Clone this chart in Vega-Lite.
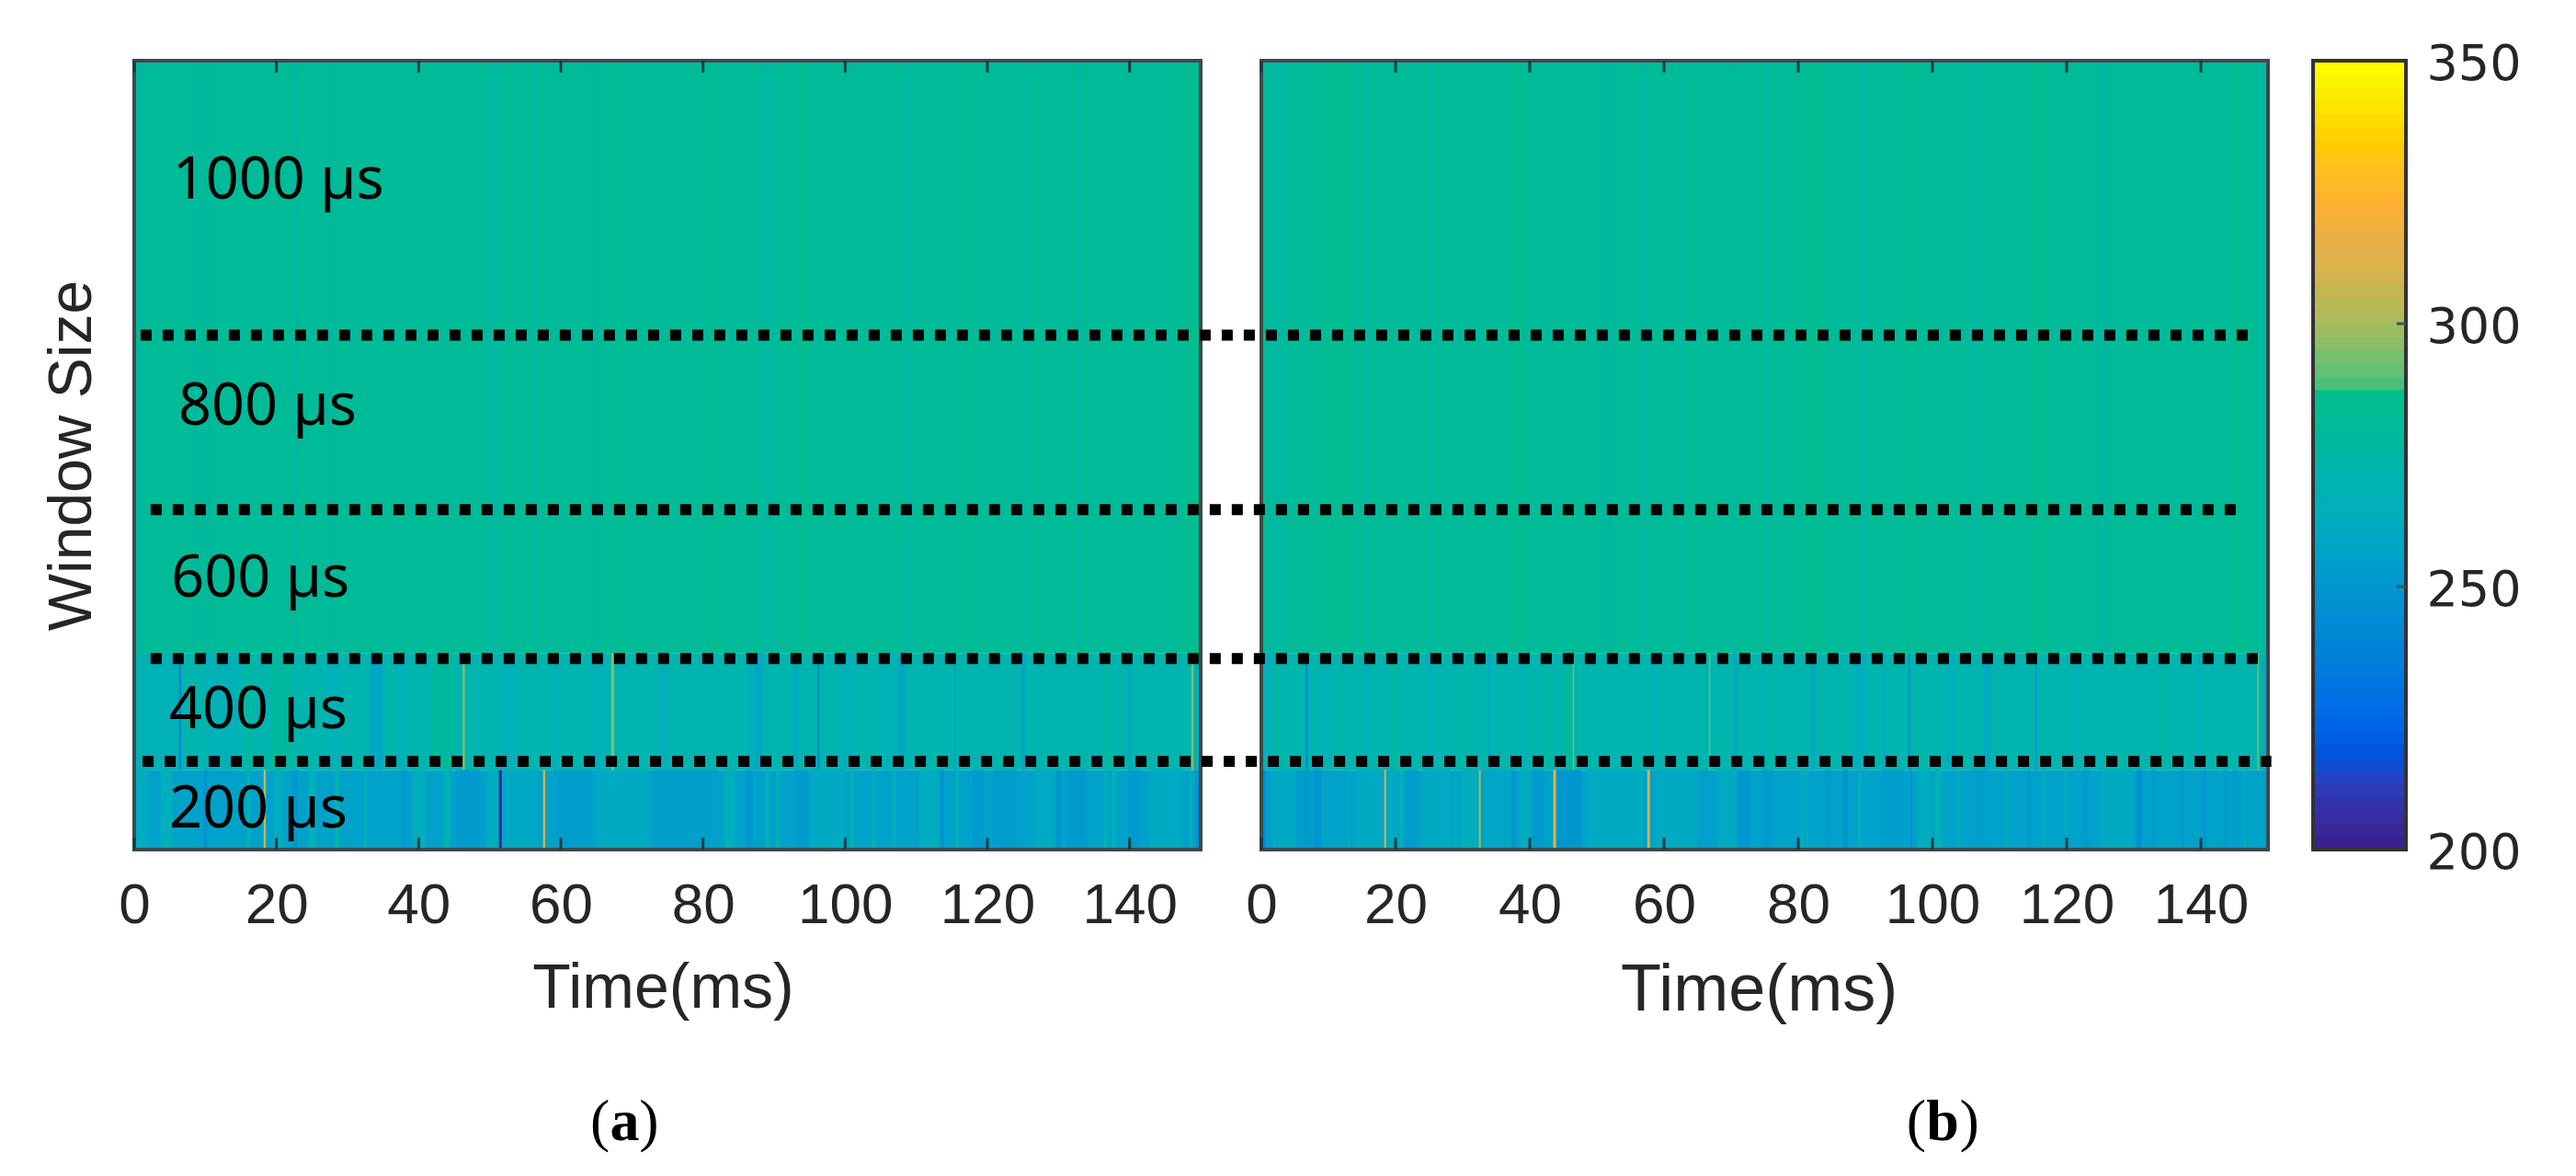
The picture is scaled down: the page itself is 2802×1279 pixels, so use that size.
{
"$schema":"https://vega.github.io/schema/vega-lite/v6.json",
"background":"white",
"padding":{"left":45,"top":43,"right":0,"bottom":0},
"autosize":{"type":"pad"},
"bounds":"flush",
"spacing":49,
"config":{"view":{"stroke":null}},
"datasets":{
"cellsA":[
{"t0":0,"t1":150,"y0":0,"y1":101,"v":256},
{"t0":0.2,"t1":2,"y0":0,"y1":101,"v":262},
{"t0":3.7,"t1":5.4,"y0":0,"y1":101,"v":265},
{"t0":9.8,"t1":10.3,"y0":0,"y1":101,"v":248},
{"t0":15.8,"t1":16.3,"y0":0,"y1":101,"v":268},
{"t0":18.2,"t1":18.5,"y0":0,"y1":101,"v":306},
{"t0":19.6,"t1":21,"y0":0,"y1":101,"v":262},
{"t0":22.2,"t1":23,"y0":0,"y1":101,"v":251},
{"t0":24.5,"t1":25.6,"y0":0,"y1":101,"v":266},
{"t0":28.2,"t1":28.8,"y0":0,"y1":101,"v":272},
{"t0":32.3,"t1":32.8,"y0":0,"y1":101,"v":265},
{"t0":37.7,"t1":38.3,"y0":0,"y1":101,"v":251},
{"t0":39.2,"t1":41,"y0":0,"y1":101,"v":264},
{"t0":43.5,"t1":44.4,"y0":0,"y1":101,"v":268},
{"t0":45.3,"t1":48.7,"y0":0,"y1":101,"v":252},
{"t0":49.6,"t1":51.3,"y0":0,"y1":101,"v":262},
{"t0":51.3,"t1":51.7,"y0":0,"y1":101,"v":203},
{"t0":52.2,"t1":56.8,"y0":0,"y1":101,"v":260},
{"t0":57.5,"t1":57.8,"y0":0,"y1":101,"v":308},
{"t0":59,"t1":64.3,"y0":0,"y1":101,"v":254},
{"t0":64.9,"t1":72.4,"y0":0,"y1":101,"v":261},
{"t0":73,"t1":82,"y0":0,"y1":101,"v":255},
{"t0":83,"t1":84.5,"y0":0,"y1":101,"v":264},
{"t0":86,"t1":87,"y0":0,"y1":101,"v":251},
{"t0":88.8,"t1":89.3,"y0":0,"y1":101,"v":268},
{"t0":90.3,"t1":90.8,"y0":0,"y1":101,"v":268},
{"t0":93,"t1":94.8,"y0":0,"y1":101,"v":252},
{"t0":95,"t1":100,"y0":0,"y1":101,"v":261},
{"t0":100.7,"t1":101.2,"y0":0,"y1":101,"v":270},
{"t0":103.8,"t1":104.2,"y0":0,"y1":101,"v":268},
{"t0":106.7,"t1":107.1,"y0":0,"y1":101,"v":268},
{"t0":110.4,"t1":113.3,"y0":0,"y1":101,"v":263},
{"t0":113.3,"t1":113.9,"y0":0,"y1":101,"v":249},
{"t0":115.5,"t1":116,"y0":0,"y1":101,"v":268},
{"t0":117.9,"t1":119.6,"y0":0,"y1":101,"v":252},
{"t0":120.8,"t1":124.2,"y0":0,"y1":101,"v":253},
{"t0":126.5,"t1":129.4,"y0":0,"y1":101,"v":261},
{"t0":129.7,"t1":130.3,"y0":0,"y1":101,"v":248},
{"t0":131.2,"t1":134,"y0":0,"y1":101,"v":252},
{"t0":136.4,"t1":136.9,"y0":0,"y1":101,"v":268},
{"t0":137.5,"t1":138.1,"y0":0,"y1":101,"v":268},
{"t0":139.8,"t1":141.6,"y0":0,"y1":101,"v":252},
{"t0":142.8,"t1":147.4,"y0":0,"y1":101,"v":261},
{"t0":148.4,"t1":148.8,"y0":0,"y1":101,"v":268},
{"t0":149.3,"t1":150,"y0":0,"y1":101,"v":248},
{"t0":0,"t1":150,"y0":101,"y1":249,"v":272},
{"t0":0.2,"t1":6,"y0":101,"y1":249,"v":268},
{"t0":6.3,"t1":6.6,"y0":101,"y1":249,"v":238},
{"t0":10,"t1":14.5,"y0":101,"y1":249,"v":267},
{"t0":15.8,"t1":16.4,"y0":101,"y1":249,"v":279},
{"t0":19.3,"t1":22.2,"y0":101,"y1":249,"v":279},
{"t0":27,"t1":29,"y0":101,"y1":249,"v":267},
{"t0":33.1,"t1":34.9,"y0":101,"y1":249,"v":258},
{"t0":37,"t1":38.5,"y0":101,"y1":249,"v":267},
{"t0":41.8,"t1":44.7,"y0":101,"y1":249,"v":279},
{"t0":46.2,"t1":46.5,"y0":101,"y1":249,"v":296},
{"t0":51.6,"t1":54,"y0":101,"y1":249,"v":267},
{"t0":59,"t1":59.5,"y0":101,"y1":249,"v":264},
{"t0":64,"t1":66.5,"y0":101,"y1":249,"v":267},
{"t0":67.1,"t1":67.5,"y0":101,"y1":249,"v":295},
{"t0":74,"t1":75,"y0":101,"y1":249,"v":265},
{"t0":86,"t1":87,"y0":101,"y1":249,"v":265},
{"t0":87.3,"t1":88.4,"y0":101,"y1":249,"v":259},
{"t0":92.8,"t1":93.4,"y0":101,"y1":249,"v":261},
{"t0":96.1,"t1":96.4,"y0":101,"y1":249,"v":244},
{"t0":99,"t1":101.8,"y0":101,"y1":249,"v":268},
{"t0":105.2,"t1":107.5,"y0":101,"y1":249,"v":268},
{"t0":107.5,"t1":108.4,"y0":101,"y1":249,"v":258},
{"t0":115.2,"t1":115.5,"y0":101,"y1":249,"v":258},
{"t0":124.8,"t1":125.3,"y0":101,"y1":249,"v":258},
{"t0":136.8,"t1":137.4,"y0":101,"y1":249,"v":279},
{"t0":139.8,"t1":140.3,"y0":101,"y1":249,"v":261},
{"t0":148.7,"t1":149,"y0":101,"y1":249,"v":295},
{"t0":149.2,"t1":150,"y0":101,"y1":249,"v":268},
{"t0":0,"t1":150,"y0":249,"y1":1000,"v":281},
{"t0":0,"t1":1.3,"y0":249,"y1":1000,"v":277},
{"t0":8,"t1":9,"y0":249,"y1":1000,"v":279},
{"t0":10,"t1":11,"y0":249,"y1":1000,"v":279},
{"t0":22,"t1":23,"y0":249,"y1":1000,"v":279},
{"t0":27,"t1":28,"y0":249,"y1":1000,"v":279},
{"t0":49.5,"t1":51.5,"y0":249,"y1":1000,"v":278},
{"t0":56.3,"t1":57,"y0":249,"y1":1000,"v":278},
{"t0":64,"t1":65,"y0":249,"y1":1000,"v":279},
{"t0":67,"t1":69,"y0":249,"y1":1000,"v":283},
{"t0":81,"t1":82.5,"y0":249,"y1":1000,"v":283},
{"t0":88.2,"t1":90,"y0":249,"y1":1000,"v":278},
{"t0":93.5,"t1":95,"y0":249,"y1":1000,"v":284},
{"t0":108.5,"t1":109.5,"y0":249,"y1":1000,"v":278},
{"t0":117,"t1":118.5,"y0":249,"y1":1000,"v":283},
{"t0":124.8,"t1":125.5,"y0":249,"y1":1000,"v":278},
{"t0":132.5,"t1":133.5,"y0":249,"y1":1000,"v":279},
{"t0":147,"t1":150,"y0":249,"y1":1000,"v":284}
],
"cellsB":[
{"t0":0,"t1":150,"y0":0,"y1":101,"v":256},
{"t0":0,"t1":0.6,"y0":0,"y1":101,"v":240},
{"t0":1.8,"t1":2.1,"y0":0,"y1":101,"v":268},
{"t0":2.5,"t1":5,"y0":0,"y1":101,"v":261},
{"t0":5.2,"t1":7.4,"y0":0,"y1":101,"v":253},
{"t0":7.7,"t1":8.9,"y0":0,"y1":101,"v":249},
{"t0":12.9,"t1":13.2,"y0":0,"y1":101,"v":268},
{"t0":14.1,"t1":18,"y0":0,"y1":101,"v":261},
{"t0":18.3,"t1":18.6,"y0":0,"y1":101,"v":306},
{"t0":19,"t1":20.2,"y0":0,"y1":101,"v":261},
{"t0":20.5,"t1":21.1,"y0":0,"y1":101,"v":266},
{"t0":21.4,"t1":23.3,"y0":0,"y1":101,"v":253},
{"t0":24,"t1":28.2,"y0":0,"y1":101,"v":261},
{"t0":28.8,"t1":29.1,"y0":0,"y1":101,"v":270},
{"t0":29.7,"t1":32.2,"y0":0,"y1":101,"v":264},
{"t0":32.4,"t1":32.7,"y0":0,"y1":101,"v":298},
{"t0":33.1,"t1":37.3,"y0":0,"y1":101,"v":258},
{"t0":37.3,"t1":37.9,"y0":0,"y1":101,"v":250},
{"t0":38.6,"t1":40.1,"y0":0,"y1":101,"v":263},
{"t0":40.4,"t1":42.2,"y0":0,"y1":101,"v":252},
{"t0":43.5,"t1":43.9,"y0":0,"y1":101,"v":320},
{"t0":44,"t1":47.7,"y0":0,"y1":101,"v":250},
{"t0":48.3,"t1":56.9,"y0":0,"y1":101,"v":261},
{"t0":57.5,"t1":57.9,"y0":0,"y1":101,"v":310},
{"t0":58.7,"t1":64.9,"y0":0,"y1":101,"v":261},
{"t0":65.2,"t1":66.7,"y0":0,"y1":101,"v":255},
{"t0":68,"t1":70.7,"y0":0,"y1":101,"v":261},
{"t0":71,"t1":72.8,"y0":0,"y1":101,"v":250},
{"t0":74.6,"t1":76.2,"y0":0,"y1":101,"v":252},
{"t0":80.4,"t1":80.8,"y0":0,"y1":101,"v":268},
{"t0":81.1,"t1":81.4,"y0":0,"y1":101,"v":268},
{"t0":84,"t1":85,"y0":0,"y1":101,"v":253},
{"t0":86.7,"t1":87.4,"y0":0,"y1":101,"v":248},
{"t0":89,"t1":89.3,"y0":0,"y1":101,"v":270},
{"t0":92.4,"t1":95.6,"y0":0,"y1":101,"v":254},
{"t0":96.7,"t1":97,"y0":0,"y1":101,"v":246},
{"t0":97.7,"t1":99.8,"y0":0,"y1":101,"v":262},
{"t0":100.3,"t1":101.4,"y0":0,"y1":101,"v":268},
{"t0":103.7,"t1":104,"y0":0,"y1":101,"v":270},
{"t0":106,"t1":108.2,"y0":0,"y1":101,"v":254},
{"t0":110.8,"t1":111.1,"y0":0,"y1":101,"v":268},
{"t0":114.2,"t1":114.6,"y0":0,"y1":101,"v":251},
{"t0":116.5,"t1":116.8,"y0":0,"y1":101,"v":266},
{"t0":119.7,"t1":120,"y0":0,"y1":101,"v":266},
{"t0":122.3,"t1":123.4,"y0":0,"y1":101,"v":252},
{"t0":125,"t1":130,"y0":0,"y1":101,"v":261},
{"t0":130.4,"t1":131.2,"y0":0,"y1":101,"v":246},
{"t0":132.6,"t1":133.3,"y0":0,"y1":101,"v":253},
{"t0":137,"t1":137.5,"y0":0,"y1":101,"v":251},
{"t0":140.4,"t1":140.7,"y0":0,"y1":101,"v":247},
{"t0":143.3,"t1":143.8,"y0":0,"y1":101,"v":253},
{"t0":144.8,"t1":145.3,"y0":0,"y1":101,"v":253},
{"t0":146.4,"t1":146.7,"y0":0,"y1":101,"v":268},
{"t0":0,"t1":150,"y0":101,"y1":249,"v":272},
{"t0":0,"t1":1.9,"y0":101,"y1":249,"v":267},
{"t0":2,"t1":2.5,"y0":101,"y1":249,"v":278},
{"t0":6.6,"t1":6.9,"y0":101,"y1":249,"v":240},
{"t0":9.2,"t1":10.1,"y0":101,"y1":249,"v":267},
{"t0":15.2,"t1":15.9,"y0":101,"y1":249,"v":263},
{"t0":19.3,"t1":20.2,"y0":101,"y1":249,"v":279},
{"t0":24.5,"t1":25.7,"y0":101,"y1":249,"v":267},
{"t0":29.7,"t1":30.1,"y0":101,"y1":249,"v":279},
{"t0":33.7,"t1":34.3,"y0":101,"y1":249,"v":261},
{"t0":38.5,"t1":39,"y0":101,"y1":249,"v":267},
{"t0":42.2,"t1":42.8,"y0":101,"y1":249,"v":279},
{"t0":45.3,"t1":46.2,"y0":101,"y1":249,"v":281},
{"t0":46.4,"t1":46.6,"y0":101,"y1":249,"v":295},
{"t0":58,"t1":58.6,"y0":101,"y1":249,"v":264},
{"t0":66.7,"t1":66.9,"y0":101,"y1":249,"v":293},
{"t0":70.4,"t1":71,"y0":101,"y1":249,"v":260},
{"t0":74.5,"t1":75,"y0":101,"y1":249,"v":265},
{"t0":76,"t1":76.3,"y0":101,"y1":249,"v":279},
{"t0":81.9,"t1":82.5,"y0":101,"y1":249,"v":260},
{"t0":88.2,"t1":90.3,"y0":101,"y1":249,"v":265},
{"t0":92.7,"t1":93,"y0":101,"y1":249,"v":260},
{"t0":96.4,"t1":96.7,"y0":101,"y1":249,"v":246},
{"t0":101.9,"t1":103.4,"y0":101,"y1":249,"v":265},
{"t0":107.6,"t1":108.7,"y0":101,"y1":249,"v":261},
{"t0":115.3,"t1":115.6,"y0":101,"y1":249,"v":252},
{"t0":121.2,"t1":122,"y0":101,"y1":249,"v":267},
{"t0":124.9,"t1":125.2,"y0":101,"y1":249,"v":265},
{"t0":128,"t1":128.3,"y0":101,"y1":249,"v":279},
{"t0":134.3,"t1":134.8,"y0":101,"y1":249,"v":279},
{"t0":139.6,"t1":139.9,"y0":101,"y1":249,"v":263},
{"t0":148.4,"t1":148.6,"y0":101,"y1":249,"v":294},
{"t0":149.1,"t1":150,"y0":101,"y1":249,"v":263},
{"t0":0,"t1":150,"y0":249,"y1":1000,"v":281},
{"t0":1.1,"t1":4,"y0":249,"y1":1000,"v":278},
{"t0":8.9,"t1":12.8,"y0":249,"y1":1000,"v":283},
{"t0":15.5,"t1":16.2,"y0":249,"y1":1000,"v":278},
{"t0":25,"t1":25.7,"y0":249,"y1":1000,"v":278},
{"t0":29.3,"t1":30,"y0":249,"y1":1000,"v":278},
{"t0":37,"t1":39,"y0":249,"y1":1000,"v":284},
{"t0":50.6,"t1":52,"y0":249,"y1":1000,"v":277},
{"t0":56.5,"t1":57.5,"y0":249,"y1":1000,"v":278},
{"t0":62,"t1":62.8,"y0":249,"y1":1000,"v":278},
{"t0":70,"t1":70.7,"y0":249,"y1":1000,"v":278},
{"t0":75,"t1":75.6,"y0":249,"y1":1000,"v":278},
{"t0":80.7,"t1":83.6,"y0":249,"y1":1000,"v":284},
{"t0":89,"t1":90.4,"y0":249,"y1":1000,"v":278},
{"t0":96,"t1":98,"y0":249,"y1":1000,"v":283},
{"t0":105,"t1":107,"y0":249,"y1":1000,"v":278},
{"t0":114.6,"t1":117.5,"y0":249,"y1":1000,"v":283},
{"t0":124.3,"t1":126.3,"y0":249,"y1":1000,"v":277},
{"t0":134,"t1":134.8,"y0":249,"y1":1000,"v":278},
{"t0":144.7,"t1":147.6,"y0":249,"y1":1000,"v":284},
{"t0":148.7,"t1":150,"y0":249,"y1":1000,"v":278}
],
"frame":[{"t0":0,"t1":150,"y0":0,"y1":1000}],
"ticks":[
{"t":0,"y0":0,"y1":15},{"t":20,"y0":0,"y1":15},{"t":40,"y0":0,"y1":15},{"t":60,"y0":0,"y1":15},{"t":80,"y0":0,"y1":15},{"t":100,"y0":0,"y1":15},{"t":120,"y0":0,"y1":15},{"t":140,"y0":0,"y1":15},
{"t":0,"y0":1000,"y1":985},{"t":20,"y0":1000,"y1":985},{"t":40,"y0":1000,"y1":985},{"t":60,"y0":1000,"y1":985},{"t":80,"y0":1000,"y1":985},{"t":100,"y0":1000,"y1":985},{"t":120,"y0":1000,"y1":985},{"t":140,"y0":1000,"y1":985}
],
"windows":[
{"t":5.4,"y":825,"label":"1000 µs"},
{"t":6.2,"y":538,"label":"800 µs"},
{"t":5.2,"y":321,"label":"600 µs"},
{"t":4.9,"y":154,"label":"400 µs"},
{"t":4.9,"y":28,"label":"200 µs"}
],
"dotted":[
{"t0":-167.0,"t1":147.1,"y":652},
{"t0":-165.5,"t1":146.0,"y":431},
{"t0":-165.5,"t1":149.5,"y":242},
{"t0":-166.7,"t1":150.5,"y":112}
],
"colorbar":[
{"lo":200,"hi":202.5,"v":201.2},{"lo":202.5,"hi":205,"v":203.7},{"lo":205,"hi":207.5,"v":206.2},{"lo":207.5,"hi":210,"v":208.7},{"lo":210,"hi":212.5,"v":211.2},{"lo":212.5,"hi":215,"v":213.7},{"lo":215,"hi":217.5,"v":216.2},{"lo":217.5,"hi":220,"v":218.7},{"lo":220,"hi":222.5,"v":221.2},{"lo":222.5,"hi":225,"v":223.7},{"lo":225,"hi":227.5,"v":226.2},{"lo":227.5,"hi":230,"v":228.7},{"lo":230,"hi":232.5,"v":231.2},{"lo":232.5,"hi":235,"v":233.7},{"lo":235,"hi":237.5,"v":236.2},{"lo":237.5,"hi":240,"v":238.7},{"lo":240,"hi":242.5,"v":241.2},{"lo":242.5,"hi":245,"v":243.7},{"lo":245,"hi":247.5,"v":246.2},{"lo":247.5,"hi":250,"v":248.7},
{"lo":250,"hi":252.5,"v":251.2},{"lo":252.5,"hi":255,"v":253.7},{"lo":255,"hi":257.5,"v":256.2},{"lo":257.5,"hi":260,"v":258.7},{"lo":260,"hi":262.5,"v":261.2},{"lo":262.5,"hi":265,"v":263.7},{"lo":265,"hi":267.5,"v":266.2},{"lo":267.5,"hi":270,"v":268.7},{"lo":270,"hi":272.5,"v":271.2},{"lo":272.5,"hi":275,"v":273.7},{"lo":275,"hi":277.5,"v":276.2},{"lo":277.5,"hi":280,"v":278.7},{"lo":280,"hi":282.5,"v":281.2},{"lo":282.5,"hi":285,"v":283.7},{"lo":285,"hi":287.5,"v":286.2},{"lo":287.5,"hi":290,"v":288.7},{"lo":290,"hi":292.5,"v":291.2},{"lo":292.5,"hi":295,"v":293.7},{"lo":295,"hi":297.5,"v":296.2},{"lo":297.5,"hi":300,"v":298.7},
{"lo":300,"hi":302.5,"v":301.2},{"lo":302.5,"hi":305,"v":303.7},{"lo":305,"hi":307.5,"v":306.2},{"lo":307.5,"hi":310,"v":308.7},{"lo":310,"hi":312.5,"v":311.2},{"lo":312.5,"hi":315,"v":313.7},{"lo":315,"hi":317.5,"v":316.2},{"lo":317.5,"hi":320,"v":318.7},{"lo":320,"hi":322.5,"v":321.2},{"lo":322.5,"hi":325,"v":323.7},{"lo":325,"hi":327.5,"v":326.2},{"lo":327.5,"hi":330,"v":328.7},{"lo":330,"hi":332.5,"v":331.2},{"lo":332.5,"hi":335,"v":333.7},{"lo":335,"hi":337.5,"v":336.2},{"lo":337.5,"hi":340,"v":338.7},{"lo":340,"hi":342.5,"v":341.2},{"lo":342.5,"hi":345,"v":343.7},{"lo":345,"hi":347.5,"v":346.2},{"lo":347.5,"hi":350,"v":348.7}
]
},
"hconcat":[
{
"width":1177,"height":858,
"layer":[
{"data":{"name":"cellsA"},"mark":{"type":"rect","strokeWidth":0},
"encoding":{
"x":{"field":"t0","type":"quantitative","scale":{"domain":[0,150],"range":[0,1160],"nice":false,"zero":false},
"axis":{"values":[0,20,40,60,80,100,120,140],"format":"d","title":"Time(ms)","titleX":575,"grid":false,"domain":false,"ticks":false,"labelFont":"Liberation Sans","labelFontSize":62,"labelColor":"#262626","labelPadding":30,"labelBound":false,"labelFlush":false,"labelOverlap":false,"titleFont":"Liberation Sans","titleFontSize":68,"titleFontWeight":"normal","titleColor":"#262626","titlePadding":26}},
"x2":{"field":"t1"},
"y":{"field":"y0","type":"quantitative","scale":{"domain":[0,1000],"nice":false,"zero":false},
"axis":{"title":"Window Size","labels":false,"ticks":false,"domain":false,"grid":false,"titleFont":"Liberation Sans","titleFontSize":66,"titleFontWeight":"normal","titleColor":"#262626","titlePadding":34,"titleY":429}},
"y2":{"field":"y1"},
"color":{"field":"v","type":"quantitative","legend":null,
"scale":{"domain":[200,210,217,224,237,250,262,277,287.4,288,295,300,308,315,323,334,342,350],"range":["#3a1f8a","#2f35b0","#0050d8","#0066e8","#0080d8","#0097cf","#00acc0","#00b8a0","#00bf88","#44c07c","#80bf6c","#a6bc60","#cfb450","#e8b048","#ffb030","#ffcb00","#fbe800","#ffff00"]}}
}},
{"data":{"name":"frame"},"mark":{"type":"rect","fill":null,"stroke":"#3c4a4c","strokeWidth":4},
"encoding":{"x":{"field":"t0","type":"quantitative"},"x2":{"field":"t1"},"y":{"field":"y0","type":"quantitative"},"y2":{"field":"y1"}}},
{"data":{"name":"ticks"},"mark":{"type":"rule","stroke":"#123c44","strokeWidth":3},
"encoding":{"x":{"field":"t","type":"quantitative"},"y":{"field":"y0","type":"quantitative"},"y2":{"field":"y1"}}},
{"data":{"name":"windows"},"mark":{"type":"text","font":"Noto Sans","fontSize":63,"align":"left","baseline":"alphabetic","color":"black"},
"encoding":{"x":{"field":"t","type":"quantitative"},"y":{"field":"y","type":"quantitative"},"text":{"field":"label"}}},
{"data":{"values":[{"t":65.5,"y":-368,"s":"("},{"t":72.4,"y":-368,"s":")"}]},"mark":{"type":"text","font":"Liberation Serif","fontSize":64,"baseline":"alphabetic","color":"black"},
"encoding":{"x":{"field":"t","type":"quantitative"},"y":{"field":"y","type":"quantitative"},"text":{"field":"s"}}},
{"data":{"values":[{"t":69,"y":-368,"s":"a"}]},"mark":{"type":"text","font":"Liberation Serif","fontSize":64,"fontWeight":"bold","baseline":"alphabetic","color":"black"},
"encoding":{"x":{"field":"t","type":"quantitative"},"y":{"field":"y","type":"quantitative"},"text":{"field":"s"}}}
]
},
{
"width":1095,"height":858,
"layer":[
{"data":{"name":"cellsB"},"mark":{"type":"rect","strokeWidth":0},
"encoding":{
"x":{"field":"t0","type":"quantitative","scale":{"domain":[0,150],"nice":false,"zero":false},
"axis":{"values":[0,20,40,60,80,100,120,140],"format":"d","title":"Time(ms)","titleX":541,"grid":false,"domain":false,"ticks":false,"labelFont":"Liberation Sans","labelFontSize":62,"labelColor":"#262626","labelPadding":30,"labelBound":false,"labelFlush":false,"labelOverlap":false,"titleFont":"Liberation Sans","titleFontSize":72,"titleFontWeight":"normal","titleColor":"#262626","titlePadding":26}},
"x2":{"field":"t1"},
"y":{"field":"y0","type":"quantitative","scale":{"domain":[0,1000],"nice":false,"zero":false},"axis":null},
"y2":{"field":"y1"},
"color":{"field":"v","type":"quantitative","legend":null,
"scale":{"domain":[200,210,217,224,237,250,262,277,287.4,288,295,300,308,315,323,334,342,350],"range":["#3a1f8a","#2f35b0","#0050d8","#0066e8","#0080d8","#0097cf","#00acc0","#00b8a0","#00bf88","#44c07c","#80bf6c","#a6bc60","#cfb450","#e8b048","#ffb030","#ffcb00","#fbe800","#ffff00"]}}
}},
{"data":{"name":"frame"},"mark":{"type":"rect","fill":null,"stroke":"#3c4a4c","strokeWidth":4},
"encoding":{"x":{"field":"t0","type":"quantitative"},"x2":{"field":"t1"},"y":{"field":"y0","type":"quantitative"},"y2":{"field":"y1"}}},
{"data":{"name":"ticks"},"mark":{"type":"rule","stroke":"#123c44","strokeWidth":3},
"encoding":{"x":{"field":"t","type":"quantitative"},"y":{"field":"y0","type":"quantitative"},"y2":{"field":"y1"}}},
{"data":{"name":"dotted"},"mark":{"type":"rule","stroke":"black","strokeWidth":12,"strokeDash":[12,12]},
"encoding":{"x":{"field":"t0","type":"quantitative"},"x2":{"field":"t1"},"y":{"field":"y","type":"quantitative"}}},
{"data":{"values":[{"t":97.6,"y":-368,"s":"("},{"t":105.5,"y":-368,"s":")"}]},"mark":{"type":"text","font":"Liberation Serif","fontSize":64,"baseline":"alphabetic","color":"black"},
"encoding":{"x":{"field":"t","type":"quantitative"},"y":{"field":"y","type":"quantitative"},"text":{"field":"s"}}},
{"data":{"values":[{"t":101.5,"y":-368,"s":"b"}]},"mark":{"type":"text","font":"Liberation Serif","fontSize":64,"fontWeight":"bold","baseline":"alphabetic","color":"black"},
"encoding":{"x":{"field":"t","type":"quantitative"},"y":{"field":"y","type":"quantitative"},"text":{"field":"s"}}}
]
},
{
"width":101,"height":858,
"layer":[
{"data":{"name":"colorbar"},"mark":{"type":"rect","strokeWidth":1},
"encoding":{
"y":{"field":"lo","type":"quantitative","scale":{"domain":[200,350],"nice":false,"zero":false},
"axis":{"orient":"right","values":[200,250,300,350],"title":null,"domain":false,"ticks":false,"grid":false,"labelFont":"DejaVu Sans","labelFontSize":54,"labelColor":"#262626","labelPadding":22,"labelBound":false,"labelFlush":false,"labelOverlap":false,"labelOffset":4}},
"y2":{"field":"hi"},
"color":{"field":"v","type":"quantitative","legend":null,
"scale":{"domain":[200,210,217,224,237,250,262,277,287.4,288,295,300,308,315,323,334,342,350],"range":["#3a1f8a","#2f35b0","#0050d8","#0066e8","#0080d8","#0097cf","#00acc0","#00b8a0","#00bf88","#44c07c","#80bf6c","#a6bc60","#cfb450","#e8b048","#ffb030","#ffcb00","#fbe800","#ffff00"]}},
"stroke":{"field":"v","type":"quantitative","legend":null,
"scale":{"domain":[200,210,217,224,237,250,262,277,287.4,288,295,300,308,315,323,334,342,350],"range":["#3a1f8a","#2f35b0","#0050d8","#0066e8","#0080d8","#0097cf","#00acc0","#00b8a0","#00bf88","#44c07c","#80bf6c","#a6bc60","#cfb450","#e8b048","#ffb030","#ffcb00","#fbe800","#ffff00"]}}
}},
{"data":{"values":[{"lo":200,"hi":350}]},"mark":{"type":"rect","fill":null,"stroke":"#333333","strokeWidth":4},
"encoding":{"y":{"field":"lo","type":"quantitative"},"y2":{"field":"hi"}}},
{"data":{"values":[{"v":250,"t0":0.9,"t1":1},{"v":300,"t0":0.9,"t1":1}]},"mark":{"type":"rule","stroke":"#2a5a60","strokeWidth":3},
"encoding":{"x":{"field":"t0","type":"quantitative","scale":{"domain":[0,1],"nice":false},"axis":null},"x2":{"field":"t1"},"y":{"field":"v","type":"quantitative"}}}
]
}
]
}
